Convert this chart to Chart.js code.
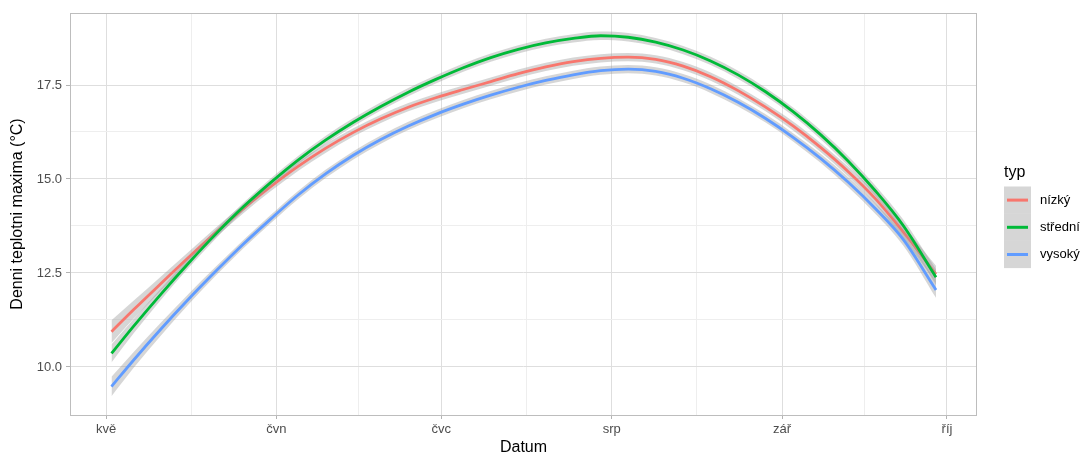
<!DOCTYPE html>
<html>
<head>
<meta charset="utf-8">
<script src="https://cdn.jsdelivr.net/npm/chart.js@4"></script>
<style>
  html, body { margin: 0; padding: 0; background: #ffffff; }
  #wrap { width: 1084px; height: 456px; position: relative; }
</style>
</head>
<body>
<div id="wrap"><canvas id="c" width="1084" height="456"></canvas></div>
<script>
// ---- data (days counted from 1 May) ----
const days = [1, 5, 10, 15, 20, 25, 30, 35, 40, 45, 50, 55, 60, 65, 70, 75, 80, 85, 90, 95, 100, 105, 110, 115, 120, 125, 130, 135, 140, 145, 151];

const nizky   = [10.94, 11.52, 12.22, 12.91, 13.58, 14.21, 14.80, 15.34, 15.82, 16.24, 16.60, 16.91, 17.16, 17.38, 17.59, 17.80, 17.98, 18.12, 18.21, 18.24, 18.18, 18.00, 17.72, 17.35, 16.91, 16.41, 15.84, 15.20, 14.47, 13.60, 12.47];
const stredni = [10.36, 11.08, 11.94, 12.76, 13.54, 14.26, 14.91, 15.51, 16.04, 16.51, 16.93, 17.31, 17.65, 17.96, 18.23, 18.45, 18.62, 18.74, 18.81, 18.77, 18.64, 18.43, 18.14, 17.77, 17.32, 16.79, 16.18, 15.48, 14.68, 13.77, 12.39];
const vysoky  = [9.48, 10.18, 11.01, 11.80, 12.55, 13.27, 13.94, 14.58, 15.14, 15.63, 16.05, 16.41, 16.72, 16.99, 17.23, 17.44, 17.62, 17.77, 17.88, 17.92, 17.86, 17.68, 17.40, 17.04, 16.61, 16.11, 15.55, 14.92, 14.21, 13.40, 12.05];

const nizkySe   = [0.30, 0.24, 0.19, 0.15, 0.13, 0.12, 0.12, 0.12, 0.12, 0.11, 0.11, 0.11, 0.11, 0.11, 0.11, 0.11, 0.11, 0.11, 0.11, 0.11, 0.11, 0.11, 0.11, 0.11, 0.11, 0.12, 0.12, 0.13, 0.15, 0.17, 0.22];
const stredniSe = [0.24, 0.19, 0.15, 0.13, 0.12, 0.11, 0.11, 0.11, 0.11, 0.11, 0.11, 0.11, 0.11, 0.11, 0.11, 0.11, 0.11, 0.11, 0.11, 0.11, 0.11, 0.11, 0.11, 0.11, 0.11, 0.11, 0.12, 0.13, 0.14, 0.16, 0.21];
const vysokySe  = [0.26, 0.21, 0.17, 0.14, 0.12, 0.11, 0.11, 0.11, 0.11, 0.11, 0.11, 0.11, 0.11, 0.11, 0.11, 0.11, 0.11, 0.11, 0.11, 0.11, 0.11, 0.11, 0.11, 0.11, 0.11, 0.11, 0.12, 0.13, 0.14, 0.16, 0.21];

const seriesNames = ['nízký', 'střední', 'vysoký'];

const xTickValues = [0, 31, 61, 92, 123, 153];
const xTickLabels = ['kvě', 'čvn', 'čvc', 'srp', 'zář', 'říj'];
const xMinorValues = [15.5, 46, 76.5, 107.5, 138];

const yTickValues = [10, 12.5, 15, 17.5];
const yTickLabels = ['10.0', '12.5', '15.0', '17.5'];
const yMinorValues = [11.25, 13.75, 16.25];

const legendTitle = 'typ';
const xTitle = 'Datum';
const yTitle = 'Denni teplotni maxima (°C)';

// ---- styling ----
const colors = ['#F8766D', '#00BA38', '#619CFF'];
const ribbonFill = 'rgba(153,153,153,0.4)';
const FONT = "'Liberation Sans', Arial, Helvetica, sans-serif";

Chart.defaults.font.family = FONT;

const seriesVals = [nizky, stredni, vysoky];
const seriesSe = [nizkySe, stredniSe, vysokySe];

const datasets = [];
let order = 100;
seriesVals.forEach((vals, s) => {
  const se = seriesSe[s];
  datasets.push({
    label: seriesNames[s] + ' lo',
    data: days.map((d, i) => ({ x: d, y: vals[i] - se[i] })),
    borderWidth: 0, pointRadius: 0, fill: false,
    cubicInterpolationMode: 'monotone', order: order--
  });
  datasets.push({
    label: seriesNames[s] + ' hi',
    data: days.map((d, i) => ({ x: d, y: vals[i] + se[i] })),
    borderWidth: 0, pointRadius: 0, fill: '-1', backgroundColor: ribbonFill,
    cubicInterpolationMode: 'monotone', order: order--
  });
  datasets.push({
    label: seriesNames[s],
    data: days.map((d, i) => ({ x: d, y: vals[i] })),
    borderColor: colors[s], borderWidth: 2.8, pointRadius: 0, fill: false,
    cubicInterpolationMode: 'monotone', order: order--
  });
});

const xAll = xTickValues.concat(xMinorValues).sort((a, b) => a - b);
const yAll = yTickValues.concat(yMinorValues).sort((a, b) => a - b);

const panelBorder = {
  id: 'panelBorder',
  afterDatasetsDraw(chart) {
    const { ctx, chartArea: a } = chart;
    ctx.save();
    ctx.strokeStyle = '#BDBDBD';
    ctx.lineWidth = 1;
    ctx.strokeRect(a.left + 0.5, a.top + 0.5, a.right - a.left - 1, a.bottom - a.top);
    ctx.restore();
  }
};

const ggLegend = {
  id: 'ggLegend',
  afterDraw(chart) {
    const ctx = chart.ctx;
    ctx.save();
    const x0 = 1004, keyW = 27, keyH = 27.2, y0 = 186.5;
    ctx.fillStyle = '#000000';
    ctx.font = '16px ' + FONT;
    ctx.textBaseline = 'alphabetic';
    ctx.textAlign = 'left';
    ctx.fillText(legendTitle, x0, 177);
    seriesNames.forEach((name, i) => {
      const ky = y0 + i * keyH;
      ctx.fillStyle = ribbonFill;
      ctx.fillRect(x0, ky, keyW, keyH);
      ctx.strokeStyle = colors[i];
      ctx.lineWidth = 3;
      ctx.beginPath();
      ctx.moveTo(x0 + 3, ky + keyH / 2);
      ctx.lineTo(x0 + keyW - 3, ky + keyH / 2);
      ctx.stroke();
      ctx.fillStyle = '#000000';
      ctx.font = '13px ' + FONT;
      ctx.textBaseline = 'middle';
      ctx.fillText(name, 1040, ky + keyH / 2);
    });
    ctx.restore();
  }
};

new Chart(document.getElementById('c'), {
  type: 'line',
  data: { datasets },
  plugins: [panelBorder, ggLegend],
  options: {
    responsive: false,
    animation: false,
    events: [],
    layout: { padding: { left: 0, top: 13, right: 107, bottom: 0 } },
    plugins: { legend: { display: false }, tooltip: { enabled: false } },
    scales: {
      x: {
        type: 'linear',
        min: -6.55, max: 158.46,
        afterFit(scale) { scale.height = 41; },
        afterBuildTicks(scale) { scale.ticks = xAll.map(v => ({ value: v })); },
        border: { display: false },
        grid: {
          color: ctx => xMinorValues.includes(ctx.tick && ctx.tick.value) ? '#EEEEEE' : '#DEDEDE',
          tickColor: ctx => xMinorValues.includes(ctx.tick && ctx.tick.value) ? 'rgba(0,0,0,0)' : '#B3B3B3',
          lineWidth: 1,
          tickLength: 4,
          drawTicks: true
        },
        ticks: {
          autoSkip: false, maxRotation: 0, minRotation: 0,
          color: '#4D4D4D', font: { size: 13 }, padding: 3,
          callback: v => { const i = xTickValues.indexOf(v); return i >= 0 ? xTickLabels[i] : ''; }
        },
        title: {
          display: true, text: xTitle, color: '#000000',
          font: { size: 16, lineHeight: 1 }, padding: { top: 0, bottom: 0 }
        }
      },
      y: {
        type: 'linear',
        min: 8.723, max: 19.415,
        afterFit(scale) { scale.width = 70; },
        afterBuildTicks(scale) { scale.ticks = yAll.map(v => ({ value: v })); },
        border: { display: false },
        grid: {
          color: ctx => yMinorValues.includes(ctx.tick && ctx.tick.value) ? '#EEEEEE' : '#DEDEDE',
          tickColor: ctx => yMinorValues.includes(ctx.tick && ctx.tick.value) ? 'rgba(0,0,0,0)' : '#B3B3B3',
          lineWidth: 1,
          tickLength: 4,
          drawTicks: true
        },
        ticks: {
          autoSkip: false,
          color: '#4D4D4D', font: { size: 13 }, padding: 4,
          callback: v => { const i = yTickValues.indexOf(v); return i >= 0 ? yTickLabels[i] : ''; }
        },
        title: {
          display: true, text: yTitle, color: '#000000',
          font: { size: 16, lineHeight: 1.2 }, padding: { top: 8, bottom: 8 }
        }
      }
    }
  }
});
</script>
</body>
</html>
